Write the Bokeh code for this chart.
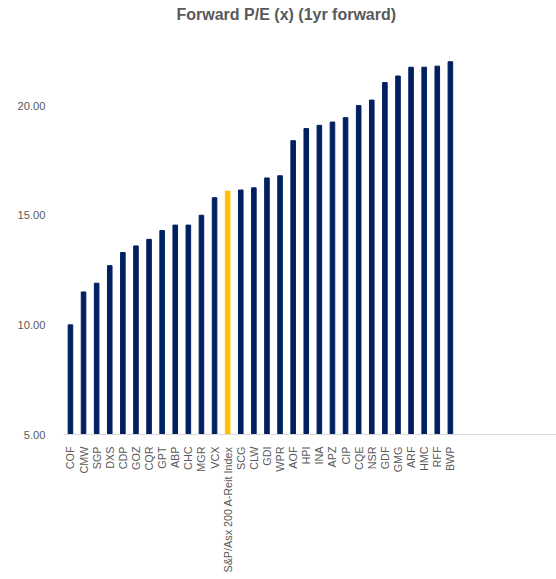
from bokeh.plotting import figure
from bokeh.models import ColumnDataSource, FixedTicker, NumeralTickFormatter, Range1d, Title
from bokeh.embed import file_html
from bokeh.resources import INLINE

categories = ["COF", "CMW", "SGP", "DXS", "CDP", "GOZ", "CQR", "GPT", "ABP", "CHC",
              "MGR", "VCX", "S&P/Asx 200 A-Reit Index", "SCG", "CLW", "GDI", "WPR",
              "AOF", "HPI", "INA", "APZ", "CIP", "CQE", "NSR", "GDF", "GMG", "ARF",
              "HMC", "RFF", "BWP"]
values = [10.0, 11.5, 11.9, 12.7, 13.3, 13.6, 13.9, 14.3, 14.55, 14.55,
          15.0, 15.8, 16.1, 16.15, 16.25, 16.7, 16.8,
          18.4, 18.95, 19.1, 19.25, 19.45, 20.0, 20.25, 21.05, 21.35, 21.75,
          21.75, 21.8, 22.0]
highlight = "S&P/Asx 200 A-Reit Index"
y_ticks = [5, 10, 15, 20]

NAVY = "#002060"
GOLD = "#FFC000"
GREY = "#595959"

xs = list(range(len(categories)))
colors = [GOLD if c == highlight else NAVY for c in categories]
source = ColumnDataSource(data=dict(x=xs, top=values, color=colors, cat=categories))

p = figure(width=556, height=579, output_backend="svg", toolbar_location=None,
           x_range=Range1d(-0.53, 37.1), y_range=Range1d(5, 23.79),
           min_border_left=63, min_border_right=0, min_border_top=22,
           min_border_bottom=145)

t = Title(text="Forward P/E (x) (1yr forward)", align="left", offset=113,
          text_font="Liberation Sans", text_font_size="16px", text_font_style="bold",
          text_color=GREY, standoff=0)
p.add_layout(t, "above")

p.vbar(x="x", top="top", bottom=5, width=0.35, color="color", line_color="color",
       source=source)

p.xaxis.ticker = FixedTicker(ticks=xs)
p.xaxis.major_label_overrides = {i: c for i, c in enumerate(categories)}
p.xaxis.major_label_orientation = 1.5707963
p.xaxis.major_label_text_font = "Liberation Sans"
p.xaxis.major_label_text_font_size = "10.8px"
p.xaxis.major_label_text_color = GREY
p.xaxis.major_label_standoff = 6
p.xaxis.axis_line_color = "#D9D9D9"
p.xaxis.axis_line_width = 1
p.xaxis.major_tick_line_color = None
p.xaxis.minor_tick_line_color = None

p.yaxis.ticker = FixedTicker(ticks=y_ticks)
p.yaxis.formatter = NumeralTickFormatter(format="0.00")
p.yaxis.major_label_text_font = "Liberation Sans"
p.yaxis.major_label_text_font_size = "11.2px"
p.yaxis.major_label_text_color = GREY
p.yaxis.major_label_standoff = 12
p.yaxis.axis_line_color = None
p.yaxis.major_tick_line_color = None
p.yaxis.minor_tick_line_color = None

p.xgrid.grid_line_color = None
p.ygrid.grid_line_color = None
p.outline_line_color = None

open("out.html", "w").write(file_html(p, INLINE))
